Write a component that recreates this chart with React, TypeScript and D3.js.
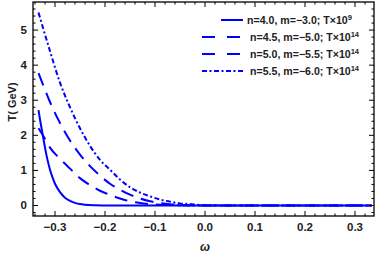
import React, { useEffect, useRef } from 'react';
import * as d3 from 'd3';

// Temperature vs omega for four (n, m) choices, Mathematica-style frame plot.

const W = 382;
const H = 257;
const FRAME = { left: 33, right: 374, top: 2, bottom: 216 };

const X_TICKS = [-0.3, -0.2, -0.1, 0.0, 0.1, 0.2, 0.3];
const Y_TICKS = [0, 1, 2, 3, 4, 5];

// omega values, one list per curve
const omegaSolid = [-0.333, -0.33, -0.325, -0.32, -0.315, -0.31, -0.305, -0.3, -0.29, -0.28, -0.27, -0.26, -0.25, -0.24, -0.22, -0.2, -0.18, 0.333];
const tempSolid = [2.72, 2.45, 2.05, 1.65, 1.3, 1.02, 0.8, 0.62, 0.38, 0.22, 0.13, 0.075, 0.04, 0.022, 0.007, 0.002, 0, 0];

const omegaDashA = [-0.333, -0.32, -0.31, -0.29, -0.27, -0.25, -0.23, -0.21, -0.19, -0.17, -0.15, -0.13, -0.11, -0.09, -0.07, -0.05, -0.03, 0, 0.333];
const tempDashA = [3.77, 3.3, 2.95, 2.35, 1.85, 1.45, 1.12, 0.85, 0.62, 0.45, 0.31, 0.2, 0.12, 0.07, 0.035, 0.015, 0.005, 0, 0];

const omegaDashB = [-0.333, -0.32, -0.31, -0.29, -0.27, -0.25, -0.23, -0.21, -0.19, -0.17, -0.15, -0.13, -0.11, -0.09, -0.07, -0.04, 0, 0.333];
const tempDashB = [2.2, 1.9, 1.65, 1.33, 1.05, 0.78, 0.58, 0.42, 0.3, 0.2, 0.12, 0.07, 0.04, 0.02, 0.01, 0.003, 0, 0];

const omegaDotDash = [-0.333, -0.31, -0.29, -0.27, -0.25, -0.23, -0.21, -0.19, -0.17, -0.15, -0.13, -0.11, -0.09, -0.07, -0.05, -0.03, -0.01, 0.02, 0.05, 0.333];
const tempDotDash = [5.5, 4.4, 3.5, 2.8, 2.2, 1.7, 1.3, 1.02, 0.74, 0.52, 0.37, 0.26, 0.17, 0.11, 0.06, 0.04, 0.015, 0.003, 0, 0];

const LEGEND = [
  { label: 'n=4.0, m=\u22123.0; T\u00d710', exp: '9', dash: null, x0: 221, tx: 247 },
  { label: 'n=4.5, m=\u22125.0; T\u00d710', exp: '14', dash: '13,12', x0: 202, tx: 250 },
  { label: 'n=5.0, m=\u22125.5; T\u00d710', exp: '14', dash: '13,12', x0: 202, tx: 250 },
  { label: 'n=5.5, m=\u22126.0; T\u00d710', exp: '14', dash: '5,2.5,2,2.5', x0: 202, tx: 250 },
];

const SERIES = [
  { xs: omegaSolid, ys: tempSolid, dash: null },
  { xs: omegaDashA, ys: tempDashA, dash: '13,8' },
  { xs: omegaDashB, ys: tempDashB, dash: '13,8' },
  { xs: omegaDotDash, ys: tempDotDash, dash: '5,2.5,2,2.5' },
];

const BLUE = '#0000ff';
const FONT = '"Liberation Sans", Arial, sans-serif';

const App = () => {
  const svgRef = useRef(null);

  useEffect(() => {
    const svg = d3.select(svgRef.current);
    svg.selectAll('*').remove();

    const x = d3.scaleLinear().domain([-0.344, 0.338]).range([FRAME.left, FRAME.right]);
    const y = d3.scaleLinear().domain([-0.3, 5.8]).range([FRAME.bottom, FRAME.top]);

    svg.append('defs').append('clipPath').attr('id', 'plot-clip')
      .append('rect')
      .attr('x', FRAME.left).attr('y', FRAME.top)
      .attr('width', FRAME.right - FRAME.left).attr('height', FRAME.bottom - FRAME.top);

    const line = d3.line()
      .x(d => x(d[0]))
      .y(d => y(d[1]))
      .curve(d3.curveMonotoneX);

    const lines = svg.append('g').attr('clip-path', 'url(#plot-clip)');
    SERIES.forEach(s => {
      const pts = s.xs.map((v, i) => [v, s.ys[i]]);
      lines.append('path')
        .attr('d', line(pts))
        .attr('fill', 'none')
        .attr('stroke', BLUE)
        .attr('stroke-width', 2)
        .attr('stroke-dasharray', s.dash);
    });

    // frame with inward ticks on all four sides
    const frame = svg.append('g').attr('stroke', '#000');
    frame.append('rect')
      .attr('x', FRAME.left).attr('y', FRAME.top)
      .attr('width', FRAME.right - FRAME.left).attr('height', FRAME.bottom - FRAME.top)
      .attr('fill', 'none').attr('stroke-width', 1.3);

    const xMinor = d3.range(-0.34, 0.34, 0.02).map(v => +v.toFixed(2));
    xMinor.forEach(v => {
      const major = X_TICKS.some(t => Math.abs(t - v) < 1e-6);
      const len = major ? 5 : 2.5;
      frame.append('line').attr('x1', x(v)).attr('x2', x(v))
        .attr('y1', FRAME.bottom).attr('y2', FRAME.bottom - len).attr('stroke-width', 1);
      frame.append('line').attr('x1', x(v)).attr('x2', x(v))
        .attr('y1', FRAME.top).attr('y2', FRAME.top + len).attr('stroke-width', 1);
    });
    const yMinor = d3.range(-0.2, 5.8, 0.2).map(v => +v.toFixed(1));
    yMinor.forEach(v => {
      const major = Y_TICKS.some(t => Math.abs(t - v) < 1e-6);
      const len = major ? 5 : 2.5;
      frame.append('line').attr('y1', y(v)).attr('y2', y(v))
        .attr('x1', FRAME.left).attr('x2', FRAME.left + len).attr('stroke-width', 1);
      frame.append('line').attr('y1', y(v)).attr('y2', y(v))
        .attr('x1', FRAME.right).attr('x2', FRAME.right - len).attr('stroke-width', 1);
    });

    const labels = svg.append('g')
      .attr('font-family', FONT).attr('font-weight', 'bold').attr('font-size', 11.5).attr('fill', '#222');
    X_TICKS.forEach(t => {
      labels.append('text')
        .attr('x', x(t)).attr('y', FRAME.bottom + 15)
        .attr('text-anchor', 'middle')
        .text(t < 0 ? '\u2212' + Math.abs(t).toFixed(1) : t.toFixed(1));
    });
    Y_TICKS.forEach(t => {
      labels.append('text')
        .attr('x', FRAME.left - 6).attr('y', y(t) + 4)
        .attr('text-anchor', 'end')
        .text(String(t));
    });

    labels.append('text')
      .attr('transform', `translate(16,102) rotate(-90)`)
      .attr('text-anchor', 'middle')
      .attr('font-size', 11)
      .text('T( GeV)');
    labels.append('text')
      .attr('x', x(0)).attr('y', 251)
      .attr('text-anchor', 'middle')
      .attr('font-style', 'italic')
      .attr('font-size', 12)
      .text('\u03c9');

    const legend = svg.append('g')
      .attr('font-family', FONT).attr('font-weight', 'bold').attr('font-size', 10.6).attr('fill', '#222');
    LEGEND.forEach((d, i) => {
      const ly = 20 + i * 17;
      legend.append('line')
        .attr('x1', d.x0).attr('x2', 243).attr('y1', ly).attr('y2', ly)
        .attr('stroke', BLUE).attr('stroke-width', 2)
        .attr('stroke-dasharray', d.dash);
      const t = legend.append('text').attr('x', d.tx).attr('y', ly + 3.5);
      t.append('tspan').text(d.label);
      t.append('tspan').attr('dy', -4).attr('font-size', 7.5).text(d.exp);
    });
  }, []);

  return (
    <svg ref={svgRef} width={W} height={H} style={{ position: 'absolute', left: 0, top: 0, background: '#fff' }} />
  );
};

export default App;
